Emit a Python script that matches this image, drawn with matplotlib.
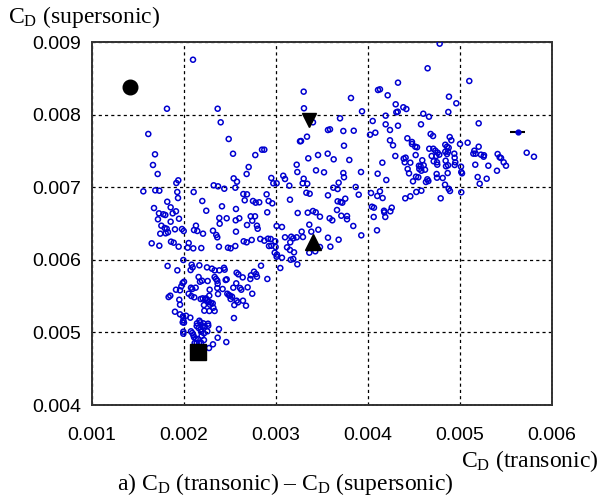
import numpy as np
import matplotlib
matplotlib.use('Agg')
import matplotlib.pyplot as plt

plt.rcParams['mathtext.fontset'] = 'custom'
plt.rcParams['mathtext.rm'] = 'Liberation Serif'
plt.rcParams['mathtext.it'] = 'Liberation Serif:italic'

# dados (unidades de 1e-3)
cd_trans = [
    2.098, 1.815, 2.366, 2.399, 1.612, 2.486,
    1.685, 1.663, 1.714, 2.533, 2.775, 2.848, 2.873, 2.703, 2.681, 2.540, 2.576, 1.917, 1.938, 1.558,
    1.688, 1.732, 1.927, 2.105, 2.323, 2.370, 2.438, 2.558, 2.645, 2.685, 2.949, 2.971, 3.007, 3.079,
    3.098, 3.145, 3.225, 3.232, 3.261, 2.898, 1.818, 1.935, 2.199, 2.242, 2.413, 2.565, 2.660, 2.750,
    2.779, 2.818, 2.920, 2.960, 3.152, 3.236, 1.674, 1.855, 1.728, 1.775, 1.797, 1.877, 1.913, 1.946,
    1.855, 1.717, 1.754, 1.790, 1.812, 1.742, 1.801, 1.826, 1.902, 1.978, 1.997, 2.109, 2.130, 2.145,
    2.207, 2.315, 2.388, 2.384, 2.464, 2.562, 2.601, 2.685, 2.725, 2.772, 2.742, 2.793, 2.801, 2.905,
    3.007, 3.065, 2.565, 2.351, 2.362, 3.098, 3.166, 3.188, 3.225, 3.155, 2.649, 2.681, 2.736, 2.829,
    2.873, 2.913, 2.942, 2.992, 1.859, 1.888, 1.942, 1.649, 1.732, 2.051, 2.040, 2.101, 2.188, 2.380,
    2.478, 2.507, 2.558, 2.924, 2.949, 2.996, 3.120,
    4.779, 4.648, 5.101, 4.326, 4.109, 4.130, 4.214, 4.880, 3.301, 3.815, 3.304, 3.935, 4.301, 4.308,
    4.323, 4.384, 4.417, 4.960, 4.873, 4.192, 4.601, 4.663, 3.696, 4.051, 4.192, 4.326, 4.576, 5.203,
    3.402, 3.565, 3.587, 3.732, 3.845, 4.022, 4.080, 4.239, 4.681, 4.707, 4.888, 4.906, 4.428, 4.478,
    4.478, 4.239, 3.337, 3.272, 3.739, 4.272, 4.514, 4.533, 4.666, 4.710, 4.732, 4.757, 4.775, 4.840,
    4.859, 4.877, 5.000, 5.083, 5.203, 5.156, 5.145, 5.170, 5.228, 5.257, 5.261, 5.409, 5.446, 5.431,
    5.475, 5.500, 5.308, 5.402, 5.725, 5.804, 4.938, 4.942, 4.949, 4.942, 4.840, 4.870, 4.859, 4.692,
    4.742, 4.518, 4.714, 4.750, 4.844, 4.590, 4.297, 4.388, 4.409, 4.399, 4.460, 4.554, 4.572, 4.605,
    4.558, 4.580, 4.620, 4.431, 4.446, 4.753, 4.848, 4.870, 5.011, 5.014, 5.022, 4.866, 4.746, 4.750,
    4.812, 4.645, 4.630, 4.656, 4.522, 4.547, 4.489, 5.166, 5.192, 5.290, 5.214, 4.837, 4.877, 4.891,
    5.014, 4.790, 4.525, 4.580, 4.460, 4.405, 4.105, 4.156, 4.199, 4.033, 4.130, 4.101, 4.159, 4.043,
    4.065, 4.174, 4.177, 4.243, 4.258, 4.188, 4.062, 4.098, 3.927, 3.840, 3.899, 3.866, 3.924, 3.732,
    3.739, 3.797, 3.627, 3.562, 3.457, 3.351, 3.435, 3.522, 3.681, 3.623, 3.670, 3.565, 3.330, 3.366,
    3.301, 3.290, 3.340, 3.670, 3.703, 3.721, 3.753, 3.663, 3.710, 3.772, 3.772, 3.583, 3.612, 3.478,
    3.345, 3.402, 3.432, 3.362, 3.460, 3.384, 3.279, 3.293, 3.565, 3.681, 3.591, 3.478,
    2.986, 3.011, 3.007, 3.065, 3.152, 3.196, 3.160, 3.188, 3.232, 3.047, 3.362, 3.427,
    1.822, 1.928, 1.993, 2.083, 2.094, 2.072, 2.167, 2.250, 2.304, 2.333, 2.384, 2.435, 2.442, 2.572,
    2.591, 2.638, 2.728, 2.721, 2.761, 2.783, 2.793, 2.837, 2.906, 2.692, 2.742, 2.674, 2.609, 2.623,
    2.568, 2.536, 2.641, 2.572, 2.587, 2.547, 2.500, 2.507, 2.522, 2.471, 2.486, 2.370, 2.333, 2.348,
    2.362, 2.366, 2.362, 2.420, 2.453, 2.464, 2.257, 2.279, 2.174, 2.196, 2.159, 2.076, 2.090, 2.127,
    2.051, 2.080, 2.112, 1.985, 2.000, 1.971, 1.957, 1.913, 1.851, 1.833, 1.949, 1.957, 1.902, 1.957,
    1.989, 2.022, 1.993, 1.986, 2.000, 2.069, 1.993, 1.993, 2.076, 2.090, 2.101, 2.109, 2.127, 2.149,
    2.116, 2.138, 2.163, 2.185, 2.192, 2.217, 2.138, 2.159, 2.185, 2.203, 2.141, 2.177, 2.167, 2.210,
    2.225, 2.264, 2.261, 2.254, 2.185, 2.217, 2.315, 2.272, 2.366, 2.380, 2.460, 2.543, 2.221, 2.275,
    2.333, 2.181, 2.203, 2.232, 2.239, 2.254, 2.268, 2.283, 2.293, 2.312, 2.319, 2.217, 2.275,
]
cd_super = [
    8.756, 8.081, 8.081, 7.894, 7.733, 7.664,
    7.453, 7.306, 7.182, 7.461, 7.443, 7.517, 7.517, 7.278, 7.182, 7.122, 7.076, 7.058, 7.095, 6.943,
    6.957, 6.952, 6.934, 6.934, 7.026, 7.012, 6.979, 6.993, 6.906, 6.902, 7.127, 7.054, 7.054, 7.158,
    7.113, 7.021, 7.310, 7.209, 7.632, 6.902, 6.800, 6.851, 6.810, 6.676, 6.737, 6.700, 6.820, 6.810,
    6.787, 6.792, 6.810, 6.778, 6.828, 6.645, 6.713, 6.723, 6.640, 6.627, 6.617, 6.640, 6.668, 6.566,
    6.525, 6.558, 6.470, 6.438, 6.428, 6.360, 6.365, 6.379, 6.420, 6.424, 6.397, 6.410, 6.470, 6.397,
    6.360, 6.401, 6.497, 6.576, 6.572, 6.544, 6.572, 6.479, 6.599, 6.599, 6.539, 6.470, 6.428, 6.654,
    6.466, 6.452, 6.388, 6.342, 6.310, 6.310, 6.318, 6.296, 6.310, 6.241, 6.255, 6.241, 6.273, 6.287,
    6.263, 6.291, 6.287, 6.255, 6.250, 6.236, 6.181, 6.227, 6.194, 6.231, 6.167, 6.158, 6.162, 6.181,
    6.167, 6.158, 6.190, 6.190, 6.194, 6.176, 6.172,
    8.977, 8.638, 8.463, 8.440, 8.339, 8.348, 8.266, 8.247, 8.316, 8.229, 8.087, 8.045, 8.142, 8.032,
    8.040, 8.101, 8.077, 8.156, 8.036, 7.985, 8.012, 7.971, 7.949, 7.912, 7.866, 7.847, 7.866, 7.880,
    7.894, 7.788, 7.797, 7.774, 7.778, 7.723, 7.751, 7.788, 7.733, 7.705, 7.691, 7.646, 7.674, 7.623,
    7.595, 7.646, 7.696, 7.636, 7.572, 7.577, 7.558, 7.550, 7.530, 7.530, 7.503, 7.475, 7.448, 7.585,
    7.558, 7.544, 7.595, 7.613, 7.558, 7.503, 7.462, 7.462, 7.448, 7.420, 7.440, 7.457, 7.402, 7.412,
    7.343, 7.296, 7.296, 7.227, 7.475, 7.420, 7.462, 7.406, 7.343, 7.306, 7.489, 7.489, 7.457, 7.430,
    7.430, 7.443, 7.357, 7.343, 7.365, 7.371, 7.430, 7.393, 7.407, 7.343, 7.338, 7.296, 7.288, 7.302,
    7.251, 7.227, 7.241, 7.251, 7.191, 7.310, 7.288, 7.302, 7.283, 7.209, 7.191, 7.195, 7.182, 7.131,
    7.127, 7.109, 7.072, 7.085, 7.145, 7.137, 7.081, 7.310, 7.140, 7.117, 7.048, 7.035, 6.979, 6.948,
    6.930, 6.847, 6.934, 6.952, 6.875, 6.847, 7.186, 7.338, 7.099, 6.920, 6.943, 6.879, 6.851, 6.731,
    6.718, 6.676, 6.654, 6.668, 6.718, 6.590, 6.590, 6.406, 6.337, 6.466, 6.897, 7.003, 7.209, 7.195,
    7.137, 7.375, 7.384, 7.462, 7.443, 7.398, 7.232, 7.205, 7.062, 6.993, 6.975, 6.888, 6.924, 6.910,
    7.117, 7.054, 7.048, 6.806, 6.796, 6.787, 6.842, 6.686, 6.607, 6.603, 6.558, 6.572, 6.544, 6.594,
    6.649, 6.672, 6.654, 6.484, 6.415, 6.388, 6.388, 6.314, 6.305, 6.277, 6.181, 6.176,
    6.098, 6.071, 6.043, 6.029, 6.135, 6.103, 6.001, 6.011, 5.938, 5.887, 6.098, 6.117,
    5.915, 5.855, 5.997, 5.933, 5.896, 5.859, 5.924, 5.896, 5.878, 5.855, 5.855, 5.890, 5.864, 5.822,
    5.800, 5.758, 5.786, 5.736, 5.836, 5.804, 5.767, 5.919, 5.736, 5.621, 5.533, 5.368, 5.612, 5.588,
    5.676, 5.616, 5.437, 5.437, 5.414, 5.377, 5.506, 5.460, 5.492, 5.533, 5.515, 5.529, 5.763, 5.736,
    5.712, 5.671, 5.612, 5.598, 5.722, 5.731, 5.708, 5.588, 5.698, 5.712, 5.763, 5.616, 5.598, 5.616,
    5.533, 5.501, 5.483, 5.680, 5.698, 5.635, 5.580, 5.588, 5.506, 5.487, 5.450, 5.382, 5.285, 5.249,
    5.222, 5.230, 5.167, 5.139, 5.134, 5.203, 5.010, 4.982, 5.015, 4.992, 4.964, 4.933, 4.913, 4.909,
    4.854, 4.854, 4.854, 4.858, 4.954, 4.895, 5.088, 5.061, 5.043, 5.083, 5.125, 5.139, 5.161, 5.125,
    5.083, 5.093, 5.120, 5.015, 5.010, 4.987, 4.836, 4.785, 4.927, 5.047, 4.867, 5.198, 5.299, 5.295,
    5.295, 5.460, 5.469, 5.455, 5.469, 5.446, 5.423, 5.382, 5.409, 5.400, 5.340, 5.377, 5.506,
]

# pontos destacados (preto)
circ_x, circ_y = [1.41], [8.385]
tri_dn_x, tri_dn_y = [3.36], [7.93]
tri_up_x, tri_up_y = [3.40], [6.24]
sq_x, sq_y = [2.149], [4.726]
# ponto com barra de erro
eb_x, eb_y, eb_err = [5.627], [7.756], [0.083]

x = np.array(cd_trans) * 1e-3
y = np.array(cd_super) * 1e-3

fig = plt.figure(figsize=(6.0, 5.03), dpi=100)
ax = fig.add_axes([0.1533, 0.1948, 0.7667, 0.7217])

ax.scatter(x, y, s=13, facecolors='none', edgecolors='#0000d0', linewidths=1.1, zorder=3)
ax.errorbar(np.array(eb_x) * 1e-3, np.array(eb_y) * 1e-3, xerr=np.array(eb_err) * 1e-3,
            fmt='o', ms=3.5, mfc='#0000d0', mec='#0000d0', ecolor='black', elinewidth=1.5,
            capsize=0, zorder=4)

ax.plot(np.array(circ_x) * 1e-3, np.array(circ_y) * 1e-3, 'o', color='black', ms=10.5, zorder=5)
ax.plot(np.array(tri_dn_x) * 1e-3, np.array(tri_dn_y) * 1e-3, 'v', color='black', ms=10.5, zorder=5)
ax.plot(np.array(tri_up_x) * 1e-3, np.array(tri_up_y) * 1e-3, '^', color='black', ms=11, zorder=5)
ax.plot(np.array(sq_x) * 1e-3, np.array(sq_y) * 1e-3, 's', color='black', ms=11, zorder=5)

ax.set_xlim(0.001, 0.006)
ax.set_ylim(0.004, 0.009)
ticks_x = [0.001, 0.002, 0.003, 0.004, 0.005, 0.006]
ticks_y = [0.004, 0.005, 0.006, 0.007, 0.008, 0.009]
ax.set_xticks(ticks_x)
ax.set_yticks(ticks_y)
ax.set_xticklabels(['%.3f' % t for t in ticks_x])
ax.set_yticklabels(['%.3f' % t for t in ticks_y])
ax.tick_params(axis='x', length=0, pad=16, labelsize=14)
ax.tick_params(axis='y', length=0, pad=8, labelsize=14)
for lab in ax.get_xticklabels() + ax.get_yticklabels():
    lab.set_family('Liberation Sans')

ax.grid(True, color='black', linestyle=(0, (2.5, 2.5)), linewidth=0.9)
for sp in ax.spines.values():
    sp.set_color('#333333')
    sp.set_linewidth(1.4)
    sp.set_linestyle((0, (1.5, 0.6)))

fig.text(0.013, 0.954, r'C$_{\mathrm{D}}$ (supersonic)', family='Liberation Serif',
         fontsize=17, ha='left', va='baseline')
fig.text(0.997, 0.072, r'C$_{\mathrm{D}}$ (transonic)', family='Liberation Serif',
         fontsize=17, ha='right', va='baseline')
fig.text(0.475, 0.026, r'a) C$_{\mathrm{D}}$ (transonic) – C$_{\mathrm{D}}$ (supersonic)',
         family='Liberation Serif', fontsize=17, ha='center', va='baseline')

fig.savefig('out.png', dpi=100)
